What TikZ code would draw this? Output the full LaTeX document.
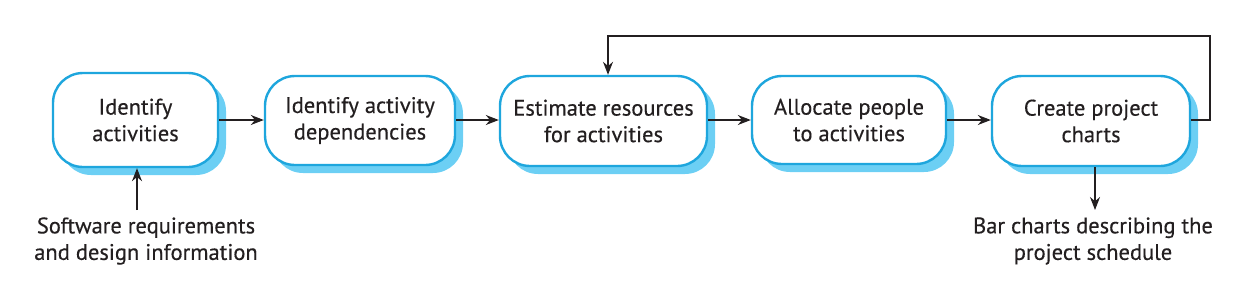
\documentclass[tikz,border=0pt]{standalone}
\usepackage{fontspec}
\setmainfont{PT Sans}
\newfontfamily\medfont{PT Sans}[FakeBold=0.35]
\usetikzlibrary{arrows.meta}
\definecolor{boxline}{HTML}{1EA6DD}
\definecolor{boxshadow}{HTML}{6CCFF4}
\definecolor{arr}{HTML}{231F20}
\tikzset{
  x=1pt,y=-1pt,
  act/.style={draw=boxline, line width=2.4pt, fill=white, rounded corners=30pt,
    align=center, font=\medfont\fontsize{22.5}{26.5}\selectfont, text=arr, inner sep=0pt},
  shad/.style={fill=boxshadow, rounded corners=30pt},
  lbl/.style={align=center, font=\medfont\fontsize{22.5}{26.5}\selectfont, text=arr, inner sep=0pt},
  conn/.style={draw=arr, line width=1.3pt, -{Stealth[length=13pt,width=10pt]}},
}
\newcommand{\actbox}[6]{%
  \fill[shad] (#2+8,#4+8) rectangle (#3+8,#5+8);
  \node[act, minimum width=#3-#2, minimum height=#5-#4] (#1) at ({(#2+#3)/2},{(#4+#5)/2}) {#6};
}
\begin{document}
\begin{tikzpicture}
\useasboundingbox (0,0) rectangle (1238,282);
\actbox{a}{53}{218}{73}{167}{Identify\\activities}
\actbox{b}{265}{455}{76}{165}{Identify activity\\dependencies}
\actbox{c}{500}{707}{76}{166}{Estimate resources\\for activities}
\actbox{d}{752}{946}{76}{164}{Allocate people\\to activities}
\actbox{e}{992}{1190}{76}{166}{Create project\\charts}
\node[lbl] (in) at (146,241) {Software requirements\\and design information};
\node[lbl] (out) at (1093,241) {Bar charts describing the\\project schedule};
\coordinate (inb) at (137,210);
\coordinate (outt) at (1095,210);
\draw[conn] (a.east |- 0,120) -- (b.west |- 0,120);
\draw[conn] (b.east |- 0,120) -- (c.west |- 0,120);
\draw[conn] (c.east |- 0,120) -- (d.west |- 0,120);
\draw[conn] (d.east |- 0,120) -- (e.west |- 0,120);
\draw[conn] (inb) -- (inb |- a.south);
\draw[conn] (outt |- e.south) -- (outt);
\draw[conn] (e.east |- 0,120) -- (1210,120) -- (1210,36) -- (608,36) -- (608,0 |- c.north);
\end{tikzpicture}
\end{document}
